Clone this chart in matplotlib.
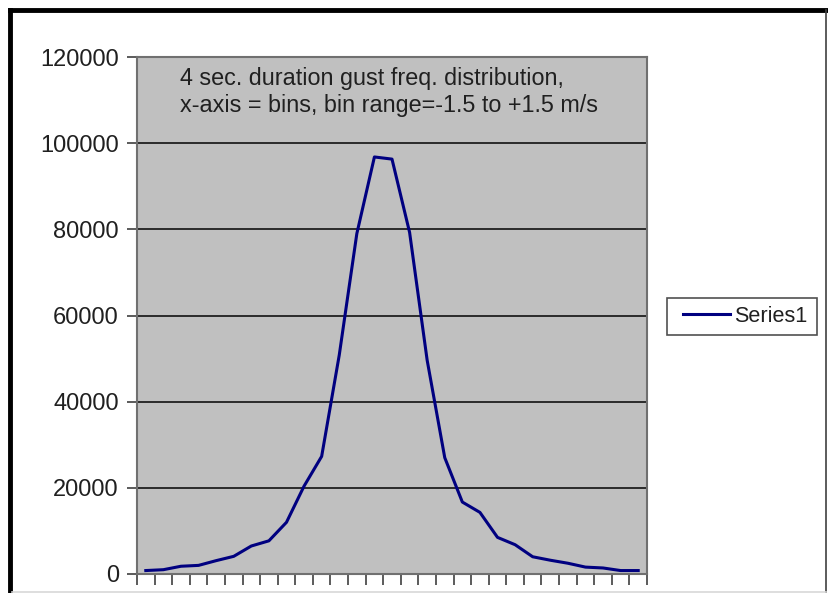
import numpy as np
import matplotlib
matplotlib.use('Agg')
import matplotlib.pyplot as plt
from matplotlib.lines import Line2D
from matplotlib.patches import Rectangle

# gust counts per bin (bin range -1.5 .. +1.5 m/s)
counts = [800, 1000, 1800, 2000, 3100, 4100, 6500, 7700, 12000, 20400,
          27300, 50800, 79000, 96800, 96300, 79300, 49600, 27000, 16700, 14300,
          8500, 6800, 4000, 3200, 2500, 1600, 1400, 800, 800]
series_name = 'Series1'
y_ticks = [0, 20000, 40000, 60000, 80000, 100000, 120000]
note = '4 sec. duration gust freq. distribution,\nx-axis = bins, bin range=-1.5 to +1.5 m/s'

plt.rcParams['font.family'] = ['Liberation Sans', 'DejaVu Sans']

fig = plt.figure(figsize=(8.29, 5.93), dpi=100)
ax = fig.add_axes([137/829, 1-574/593, (647-137)/829, (574-57)/593])
ax.set_facecolor('#c0c0c0')

x = np.arange(len(counts)) + 0.5
ax.plot(x, counts, color='#000080', lw=2.2, label=series_name)

ax.set_xlim(0, len(counts))
ax.set_ylim(0, 120000)
ax.set_xticks(np.arange(len(counts) + 1))
ax.set_xticklabels([])
ax.set_yticks(y_ticks)
ax.set_yticklabels([str(v) for v in y_ticks], fontsize=17, color='#202020')
ax.yaxis.grid(True, color='#2a2a2a', lw=1.4)
ax.set_axisbelow(True)
ax.tick_params(axis='x', length=8, width=1.2, color='#404040', direction='out')
ax.tick_params(axis='y', length=7, width=1.2, color='#404040', direction='out', pad=6)
for s in ax.spines.values():
    s.set_color('#707070')
    s.set_linewidth(1.5)

ax.text(180/829, 1-92/593, note, transform=fig.transFigure, fontsize=16.8,
        color='#202020', va='center', ha='left', linespacing=1.27)

# legend: frame drawn by hand so the padding matches
fig.add_artist(Rectangle((667/829, 1-335/593), 150/829, 37/593, transform=fig.transFigure,
                         facecolor='none', edgecolor='#505050', lw=1.2, zorder=-1))
leg = ax.legend(loc='center left', bbox_to_anchor=(683/829, 1-316/593),
                bbox_transform=fig.transFigure, fontsize=15.6, frameon=False,
                handlelength=2.17, handletextpad=0.18, borderpad=0, borderaxespad=0)
for t in leg.get_texts():
    t.set_color('#202020')

# outer chart frame
fig.add_artist(Line2D([10/829, 10/829], [0, 1-10/593], color='black', lw=3.5,
                      transform=fig.transFigure))
fig.add_artist(Line2D([10/829, 827/829], [1-10/593, 1-10/593], color='black', lw=3.5,
                      transform=fig.transFigure))
fig.add_artist(Line2D([826/829, 826/829], [0, 1-10/593], color='#404040', lw=1.2,
                      transform=fig.transFigure))
fig.add_artist(Line2D([12/829, 826/829], [1/593, 1/593], color='#d8d8d8', lw=1.2,
                      transform=fig.transFigure))

fig.savefig('out.png', dpi=100)
